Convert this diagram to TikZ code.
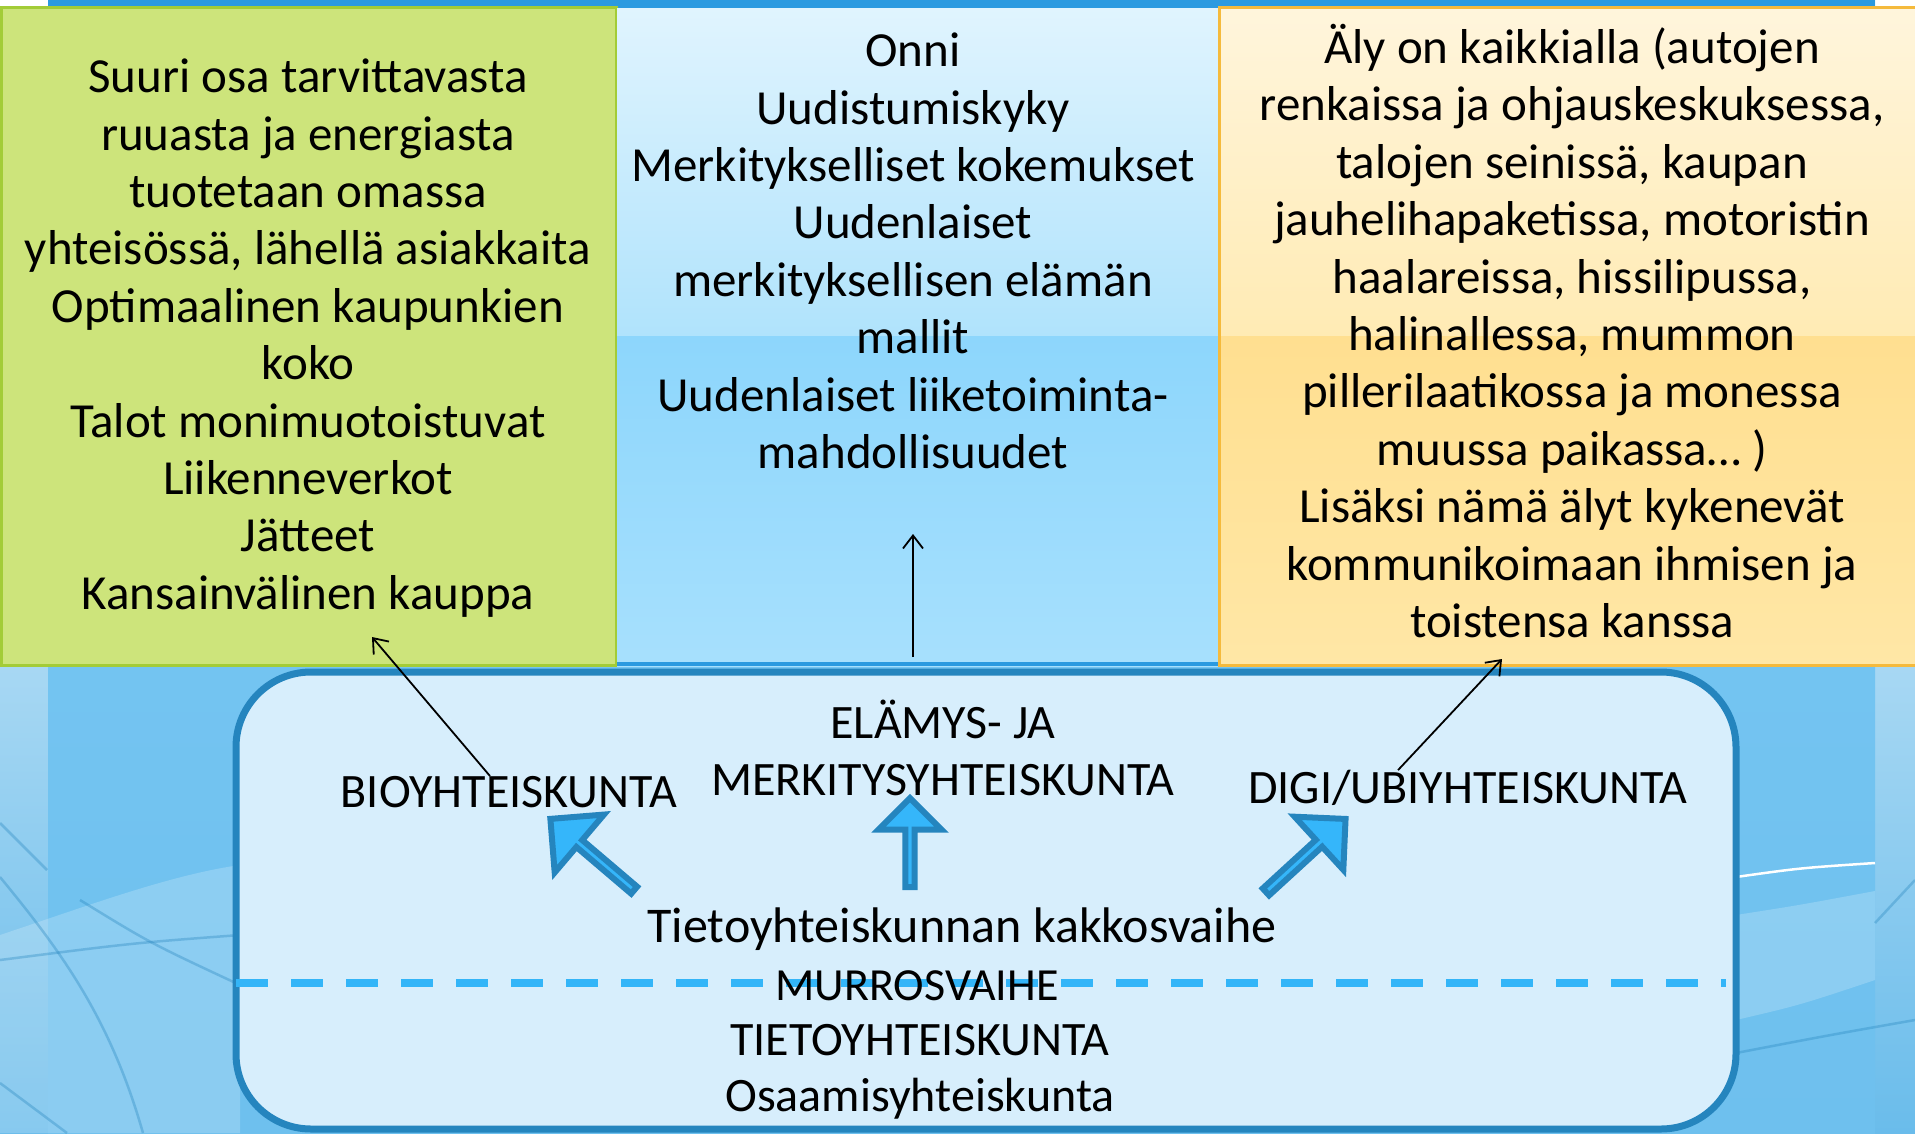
\documentclass[tikz,border=0pt]{standalone}
\usepackage{fontspec}
\setmainfont{Carlito}
\usetikzlibrary{shapes.arrows,arrows.meta,positioning}
\definecolor{bandblue}{HTML}{7BCAF6}
\definecolor{stripblue}{HTML}{2B9AE0}
\definecolor{edgeblue}{HTML}{2585BE}
\definecolor{paleblue}{HTML}{D7EEFC}
\definecolor{arrowfill}{HTML}{35B6FA}
\definecolor{dashblue}{HTML}{33B5F8}
\definecolor{biofill}{HTML}{CDE47B}
\definecolor{bioedge}{HTML}{A3CC37}
\definecolor{elatop}{HTML}{E0F4FE}
\definecolor{elamid}{HTML}{B0E3FC}
\definecolor{elalow}{HTML}{8DD6FC}
\definecolor{elabot}{HTML}{A7E0FD}
\definecolor{digitop}{HTML}{FFF5DC}
\definecolor{digimid}{HTML}{FFEBB4}
\definecolor{digilow}{HTML}{FFDF90}
\definecolor{digibot}{HTML}{FFE7A6}
\definecolor{digiedge}{HTML}{F5BA3C}
\tikzset{
  boxtext/.style={align=center, inner sep=0pt, font=\fontsize{49}{57.4}\selectfont},
  steptext/.style={align=center, inner sep=0pt, font=\fontsize{48}{57}\selectfont},
  bigarrow/.style={single arrow, draw=edgeblue, fill=arrowfill, line width=6pt, inner sep=0pt,
    minimum width=76pt, single arrow head extend=22pt},
  thinarrow/.style={-{Straight Barb[length=13pt,width=20pt]}, line width=1.8pt},
  swoosh/.style={edgeblue, opacity=0.35, line width=2.5pt}
}

\begin{document}
\begin{tikzpicture}[x=1pt, y=-1pt]
  \useasboundingbox (0,0) rectangle (1915,1133);
  % background
  \shade[top color=white, bottom color=bandblue!80!edgeblue] (0,0) rectangle (1915,1133);
  \shade[top color=bandblue, bottom color=bandblue!85!edgeblue] (48,0) rectangle (1875,1133);
  \fill[stripblue] (48,0) rectangle (1875,8);
  \fill[white, opacity=0.2] (0,1133) -- (0,935) .. controls (90,905) and (170,875) .. (240,865) -- (240,1133) -- cycle;
  \draw[swoosh] (0,877) .. controls (60,950) and (110,1017) .. (143,1133);
  \draw[swoosh] (80,900) .. controls (150,943) .. (240,985);
  \draw[swoosh] (0,960) .. controls (133,943) .. (240,935);
  \draw[swoosh] (0,1083) -- (67,1133);
  \draw[swoosh] (0,823) -- (47,870);
  \fill[white, opacity=0.2] (1736,915) .. controls (1800,905) .. (1875,891) -- (1875,980) .. controls (1800,1005) .. (1736,1020) -- cycle;
  \draw[white, line width=2.5pt] (1736,877) .. controls (1800,868) .. (1875,863);
  \draw[swoosh] (1736,1053) .. controls (1830,1035) .. (1915,1020);
  \draw[swoosh] (1875,923) -- (1915,880);

  % top boxes
  \filldraw[fill=biofill, draw=bioedge, line width=3pt] (1.5,7.5) rectangle (616,665);
  \shade[top color=elatop, bottom color=elamid] (617,8) rectangle (1218,336);
  \shade[top color=elalow, bottom color=elabot] (617,336) rectangle (1218,666);
  \draw[stripblue, line width=4pt] (617,664) -- (1218,664);
  \shade[top color=digitop, bottom color=digimid] (1219.5,7.5) rectangle (1917,336);
  \shade[top color=digilow, bottom color=digibot] (1219.5,336) rectangle (1917,665);
  \draw[digiedge, line width=3pt] (1917,7.5) -- (1219.5,7.5) -- (1219.5,665) -- (1917,665);

  \node[boxtext] (biotext) at (308,338) {Suuri osa tarvittavasta\\ruuasta ja energiasta\\tuotetaan omassa\\yhteisössä, lähellä asiakkaita\\Optimaalinen kaupunkien\\koko\\Talot monimuotoistuvat\\Liikenneverkot\\Jätteet\\Kansainvälinen kauppa};
  \node[boxtext] (elatext) at (913,251) {Onni\\Uudistumiskyky\\Merkitykselliset kokemukset\\Uudenlaiset\\merkityksellisen elämän\\mallit\\Uudenlaiset liiketoiminta-\\mahdollisuudet};
  \node[boxtext] (digitext) at (1572,331) {Äly on kaikkialla (autojen\\renkaissa ja ohjauskeskuksessa,\\talojen seinissä, kaupan\\jauhelihapaketissa, motoristin\\haalareissa, hissilipussa,\\halinallessa, mummon\\pillerilaatikossa ja monessa\\muussa paikassa… )\\Lisäksi nämä älyt kykenevät\\kommunikoimaan ihmisen ja\\toistensa kanssa};

  % society box
  \draw[fill=paleblue, draw=edgeblue, line width=7pt, rounded corners=75pt] (236,672) rectangle (1736,1129);
  \draw[dashblue, line width=8pt, dash pattern=on 32pt off 23pt] (236,983) -- (1726,983);

  \node[steptext] (bio) at (509,792) {BIOYHTEISKUNTA};
  \node[steptext] (elamys) at (943,748) {ELÄMYS- JA\\MERKITYSYHTEISKUNTA};
  \node[steptext] (digi) at (1468,788) {DIGI/UBIYHTEISKUNTA};
  \node[steptext, font=\fontsize{50}{57}\selectfont] (kakkos) at (962,929) {Tietoyhteiskunnan kakkosvaihe};
  \node[steptext, font=\fontsize{46}{56}\selectfont] (murros) at (917,986) {MURROSVAIHE};
  \node[steptext] (tieto) at (920,1040) {TIETOYHTEISKUNTA};
  \node[steptext] (osaamis) at (920,1099) {Osaamisyhteiskunta};

  \node[bigarrow, minimum height=110pt, rotate=139.6] (toBio) at (594,856) {};
  \node[bigarrow, minimum height=89pt, minimum width=63pt, single arrow head extend=17pt, rotate=90] (toElamys) at (910,845) {};
  \node[bigarrow, minimum height=108pt, minimum width=72pt, single arrow head extend=20pt, rotate=42.5] (toDigi) at (1304,857) {};

  \coordinate (bioend) at (372,637);
  \coordinate (elastart) at (913,657);
  \coordinate (elaend) at (913,534);
  \coordinate (digiend) at (1502,659);
  \draw[thinarrow] ([xshift=-19pt]bio.north) -- (bioend);
  \draw[thinarrow] (elastart) -- (elaend);
  \draw[thinarrow] ([xshift=-70pt]digi.north) -- (digiend);
\end{tikzpicture}
\end{document}
